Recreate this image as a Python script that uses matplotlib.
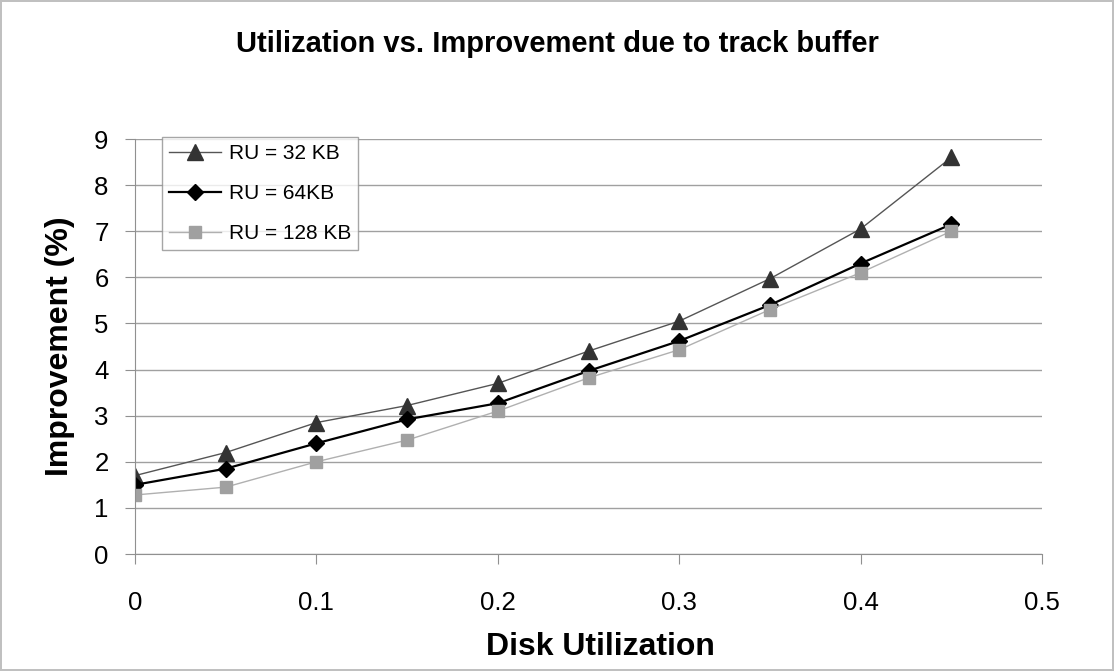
import matplotlib
matplotlib.use("Agg")
import matplotlib.pyplot as plt

plt.rcParams['font.family'] = ['Liberation Sans', 'DejaVu Sans']

utilization = [0, 0.05, 0.1, 0.15, 0.2, 0.25, 0.3, 0.35, 0.4, 0.45]
ru_32kb = [1.7, 2.2, 2.85, 3.22, 3.7, 4.4, 5.05, 5.97, 7.05, 8.6]
ru_64kb = [1.5, 1.85, 2.4, 2.92, 3.27, 3.97, 4.62, 5.4, 6.3, 7.15]
ru_128kb = [1.28, 1.45, 2.0, 2.47, 3.1, 3.82, 4.43, 5.3, 6.1, 7.0]

x_ticks = [0, 0.1, 0.2, 0.3, 0.4, 0.5]
y_ticks = list(range(10))

W, H = 1114, 671
fig = plt.figure(figsize=(W / 100, H / 100), dpi=100)
fig.patch.set_edgecolor('#c0c0c0')
fig.patch.set_linewidth(1.5)
ax = fig.add_axes([135 / W, 1 - 554 / H, (1042 - 135) / W, (554 - 139) / H])

ax.plot(utilization, ru_32kb, color='#555555', lw=1.0, marker='^', ms=11,
        mfc='#333333', mec='#333333', label='RU = 32 KB')
ax.plot(utilization, ru_64kb, color='#000000', lw=1.6, marker='D', ms=8,
        mfc='#000000', mec='#000000', label='RU = 64KB')
ax.plot(utilization, ru_128kb, color='#b0b0b0', lw=1.0, marker='s', ms=9,
        mfc='#a0a0a0', mec='#a0a0a0', label='RU = 128 KB')

ax.set_xlim(0, 0.5)
ax.set_ylim(0, 9)
ax.set_xticks(x_ticks)
ax.set_xticklabels(['0', '0.1', '0.2', '0.3', '0.4', '0.5'])
ax.set_yticks(y_ticks)
ax.yaxis.grid(True, color='#a0a0a0', lw=1)
ax.set_axisbelow(True)
for side in ('top', 'right'):
    ax.spines[side].set_visible(False)
for side in ('left', 'bottom'):
    ax.spines[side].set_color('#909090')
ax.tick_params(axis='both', direction='out', length=7, color='#909090',
               labelsize=18.5)
ax.tick_params(axis='x', pad=20)
ax.tick_params(axis='y', pad=12)

fig.text(0.5, 1 - 52 / H, 'Utilization vs. Improvement due to track buffer',
         ha='center', va='baseline', fontsize=21, fontweight='bold')
fig.text(600 / W, 1 - 655 / H, 'Disk Utilization',
         ha='center', va='baseline', fontsize=23, fontweight='bold')
fig.text(60 / W, 1 - 346 / H, 'Improvement (%)', rotation=90,
         ha='center', va='center', fontsize=23, fontweight='bold')

leg = ax.legend(loc='upper left', bbox_to_anchor=(162 / W, 1 - 137 / H),
                bbox_transform=fig.transFigure, borderaxespad=0, fontsize=15,
                frameon=True, fancybox=False, edgecolor='#909090',
                handlelength=2.5, handletextpad=0.35, borderpad=0.35,
                labelspacing=1.0)
leg.get_frame().set_linewidth(1)

fig.savefig('out.png', dpi=100, edgecolor=fig.get_edgecolor())
